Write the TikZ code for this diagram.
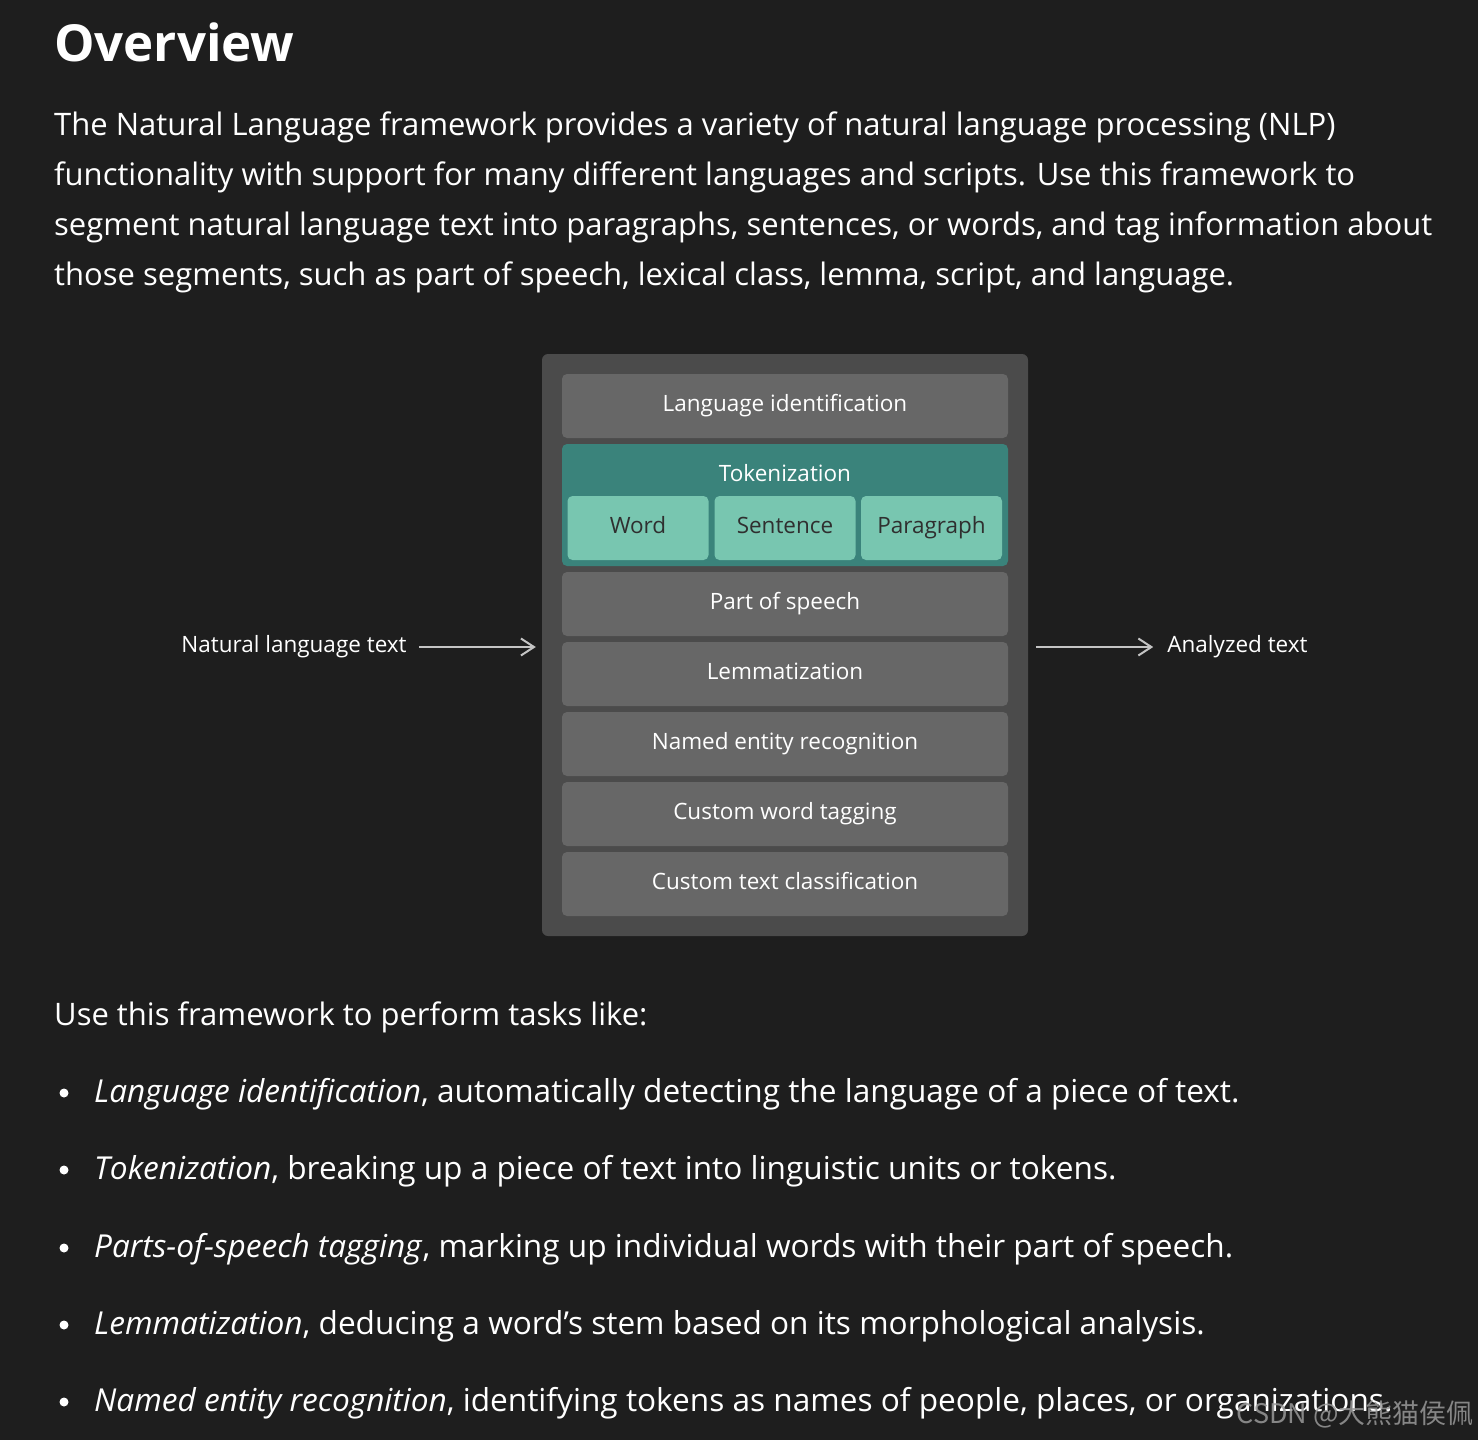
\documentclass[tikz,border=0pt]{standalone}
\usepackage{fontspec}
\setmainfont{Open Sans}
\newfontfamily\cjkfont{Noto Sans CJK SC}
\usetikzlibrary{arrows.meta}

\definecolor{pagebg}{HTML}{1E1E1E}
\definecolor{framegray}{HTML}{4B4B4B}
\definecolor{stagegray}{HTML}{676767}
\definecolor{tokteal}{HTML}{3A837B}
\definecolor{unitteal}{HTML}{78C6B0}
\definecolor{unittext}{HTML}{2F2F2F}
\definecolor{arrowgray}{HTML}{C4C4C4}

\newcommand{\txttitle}{\fontsize{51}{60}\bfseries\selectfont}
\newcommand{\txtbody}{\fontsize{31}{40}\selectfont}
\newcommand{\txttask}{\fontsize{31.6}{40}\selectfont}
\newcommand{\txtdiag}{\fontsize{22.5}{26}\selectfont}

\begin{document}
\begin{tikzpicture}[x=1pt, y=-1pt, >=Stealth,
    line/.style={anchor=base west, inner sep=0pt, text=white, font=\txtbody},
    stage/.style={fill=stagegray, rounded corners=5pt, minimum width=446pt, minimum height=64pt, text=white, font=\txtdiag, text height=16pt, text depth=5pt},
    unit/.style={fill=unitteal, rounded corners=5pt, minimum width=141pt, minimum height=64pt, text=unittext, font=\txtdiag, text height=16pt, text depth=5pt},
    side/.style={inner sep=0pt, text=white, font=\txtdiag, text height=16pt, text depth=5pt},
    flow/.style={draw=arrowgray, line width=2pt, -{Straight Barb[length=13pt, width=17pt]}},
    dot/.style={circle, fill=white, minimum size=9pt, inner sep=0pt}]
  \fill[pagebg] (0,0) rectangle (1478,1440);
  \useasboundingbox (0,0) rectangle (1478,1440);

  % heading and intro text
  \node[line, font=\txttitle] (title) at (54,61) {Overview};
  \node[line] (intro1) at (54,135) {The Natural Language framework provides a variety of natural language processing (NLP)};
  \node[line] (intro2) at (54,185) {functionality with support for many different languages and scripts. Use this framework to};
  \node[line] (intro3) at (54,235) {segment natural language text into paragraphs, sentences, or words, and tag information about};
  \node[line] (intro4) at (54,285) {those segments, such as part of speech, lexical class, lemma, script, and language.};

  % the framework box
  \node[fill=framegray, rounded corners=6pt, minimum width=486pt, minimum height=582pt] (frame) at (785,645) {};
  \node[stage] (langid) at (785,406) {Language identification};
  \node[fill=tokteal, rounded corners=5pt, minimum width=446pt, minimum height=122pt] (tok) at (785,505) {};
  \node[side] (toklabel) at (785,476) {Tokenization};
  \node[unit] (word) at (638,528) {Word};
  \node[unit] (sentence) at (785,528) {Sentence};
  \node[unit] (paragraph) at (931.5,528) {Paragraph};
  \node[stage] (pos) at (785,604) {Part of speech};
  \node[stage] (lemma) at (785,674) {Lemmatization};
  \node[stage] (ner) at (785,744) {Named entity recognition};
  \node[stage] (wordtag) at (785,814) {Custom word tagging};
  \node[stage] (textclass) at (785,884) {Custom text classification};

  % input and output
  \node[side] (input) at (294,647) {Natural language text};
  \node[side] (output) at (1237.5,647) {Analyzed text};
  \draw[flow, shorten <=12pt, shorten >=6pt] (input.east) -- (input.east -| frame.west);
  \draw[flow, shorten <=8pt, shorten >=14pt] (output.west -| frame.east) -- (output.west);

  % task list
  \node[line] (tasks) at (54,1025) {Use this framework to perform tasks like:};
  \foreach \y/\term/\rest [count=\i] in {
      1102/Language identification/{, automatically detecting the language of a piece of text.},
      1179/Tokenization/{, breaking up a piece of text into linguistic units or tokens.},
      1257/Parts-of-speech tagging/{, marking up individual words with their part of speech.},
      1334/Lemmatization/{, deducing a word’s stem based on its morphological analysis.},
      1411/Named entity recognition/{, identifying tokens as names of people, places, or organizations.}} {
    \node[dot] (dot\i) at (64,\y-9) {};
    \node[line, font=\txttask] (task\i) at (94,\y) {\textit{\term}\rest};
  }

  \node[anchor=base east, inner sep=0pt, text=white!60!black, opacity=0.85, font={\cjkfont\fontsize{27}{30}\selectfont}] (mark) at (1474,1423) {CSDN @大熊猫侯佩};
\end{tikzpicture}
\end{document}
